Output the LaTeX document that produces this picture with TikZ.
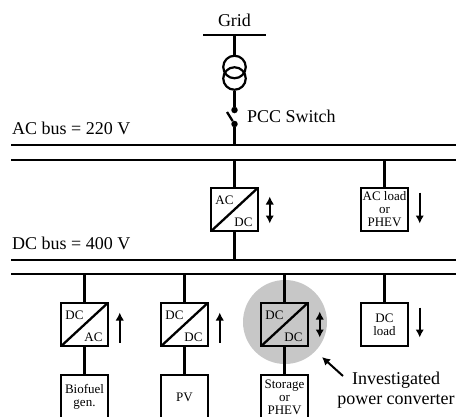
\documentclass[tikz,border=0pt]{standalone}
\usepackage{fontspec}
\setmainfont{Liberation Serif}
\usetikzlibrary{matrix,arrows.meta,calc}
\tikzset{
  wire/.style={line width=2.3pt},
  flow/.style={line width=2pt},
  bx/.style={draw,line width=2.4pt,minimum width=46.5pt,minimum height=43pt,inner sep=0pt,outer sep=0pt,align=center,font=\fontsize{13}{13}\selectfont},
  lbl/.style={font=\fontsize{18}{20}\selectfont,inner sep=0pt},
  volt/.style={font=\fontsize{13}{13}\selectfont,inner sep=0pt},
  dot/.style={circle,fill,inner sep=0pt,minimum size=6.5pt},
  coil/.style={circle,draw,line width=2.2pt,inner sep=0pt,minimum size=22.5pt},
}
\begin{document}
\begin{tikzpicture}[>={Latex[length=8pt,width=8.5pt]},x=1pt,y=-1pt]
\path[use as bounding box,clip] (0,0) rectangle (456,416);
\node[circle,fill=black!22,inner sep=0pt,minimum size=84pt] (halo) at (285,322) {};
\matrix[inner sep=0pt,outer sep=0pt,row sep=69.6pt,column sep=51.1pt] at (234.5,303.5)
{
   & & & \node[bx] (acload) {AC load\\or\\PHEV}; \\
   \node[bx] (dcac) {}; & \node[bx] (dcdca) {}; & \node[bx] (dcdcb) {}; & \node[bx] (dcload) {DC\\load}; \\[-43pt]
   \node[bx,minimum height=44pt] (bio) {Biofuel\\gen.}; & \node[bx,minimum height=44pt] (pv) {PV}; & \node[bx,minimum height=44pt] (stor) {Storage\\or\\PHEV}; & \\
};
\coordinate (mid) at ($(dcdca)!.5!(dcdcb)$);
\node[bx] (acdc) at (mid |- acload) {};
% buses
\coordinate (acbusa) at (11,145);
\coordinate (acbusb) at (11,160);
\coordinate (dcbusa) at (11,260);
\coordinate (dcbusb) at (11,274);
\coordinate (busend) at (456,0);
\foreach \b in {acbusa,acbusb,dcbusa,dcbusb}
   \draw[wire] (\b) -- (busend |- \b);
\node[lbl,anchor=west] (aclabel) at (12,128) {AC bus = 220 V};
\node[lbl,anchor=west] (dclabel) at (12,243) {DC bus = 400 V};
% grid and switch
\coordinate (gridl) at (203,35);
\coordinate (gridr) at (266,35);
\draw[wire] (gridl) -- (gridr);
\node[lbl] (gridname) at (234.5,20) {Grid};
\coordinate (gridm) at ($(gridl)!.5!(gridr)$);
\node[coil] (coila) at (234.5,67) {};
\node[coil] (coilb) at (234.5,78.5) {};
\node[dot] (pcca) at (234.5,110) {};
\node[dot] (pccb) at (234.5,124) {};
\coordinate (blade) at (227,112);
\node[lbl,anchor=west] (pccname) at (247,116) {PCC Switch};
\draw[wire] (gridm) -- (coila.north);
\draw[wire] (coilb.south) -- (pcca);
\draw[wire] (blade) -- (pccb);
\draw[wire] (pccb) -- (pccb |- acbusa);
% feeders
\draw[wire] (acdc.north) -- (acdc.north |- acbusb);
\draw[wire] (acdc.south) -- (acdc.south |- dcbusa);
\draw[wire] (acload.north) -- (acload.north |- acbusb);
\foreach \n in {dcac,dcdca,dcdcb,dcload}
   \draw[wire] (\n.north) -- (\n.north |- dcbusb);
\draw[wire] (dcac) -- (bio);
\draw[wire] (dcdca) -- (pv);
\draw[wire] (dcdcb) -- (stor);
% converters
\foreach \n/\a/\b in {acdc/AC/DC,dcac/DC/AC,dcdca/DC/DC,dcdcb/DC/DC}
{
   \draw[wire] (\n.south west) -- (\n.north east);
   \node[volt] (\n a) at ($(\n.center)+(-10,-9.5)$) {\a};
   \node[volt] (\n b) at ($(\n.center)+(9,12.5)$) {\b};
}
% power flow
\draw[flow,<->] ($(acdc.east)+(12,-13)$) -- ($(acdc.east)+(12,14)$);
\draw[flow,->] ($(acload.east)+(12,-17)$) -- ($(acload.east)+(12,14)$);
\draw[flow,->] ($(dcac.east)+(12,18)$) -- ($(dcac.east)+(12,-12)$);
\draw[flow,->] ($(dcdca.east)+(12,18)$) -- ($(dcdca.east)+(12,-12)$);
\draw[flow,<->] ($(dcdcb.east)+(12,-13)$) -- ($(dcdcb.east)+(12,13)$);
\draw[flow,->] ($(dcload.east)+(12,-17)$) -- ($(dcload.east)+(12,13)$);
% note
\node[lbl,align=center] (note) at (396,390) {Investigated\\power converter};
\coordinate (notetail) at (343,376);
\coordinate (notetip) at (322,357);
\draw[flow,->] (notetail) -- (notetip);
\end{tikzpicture}
\end{document}
